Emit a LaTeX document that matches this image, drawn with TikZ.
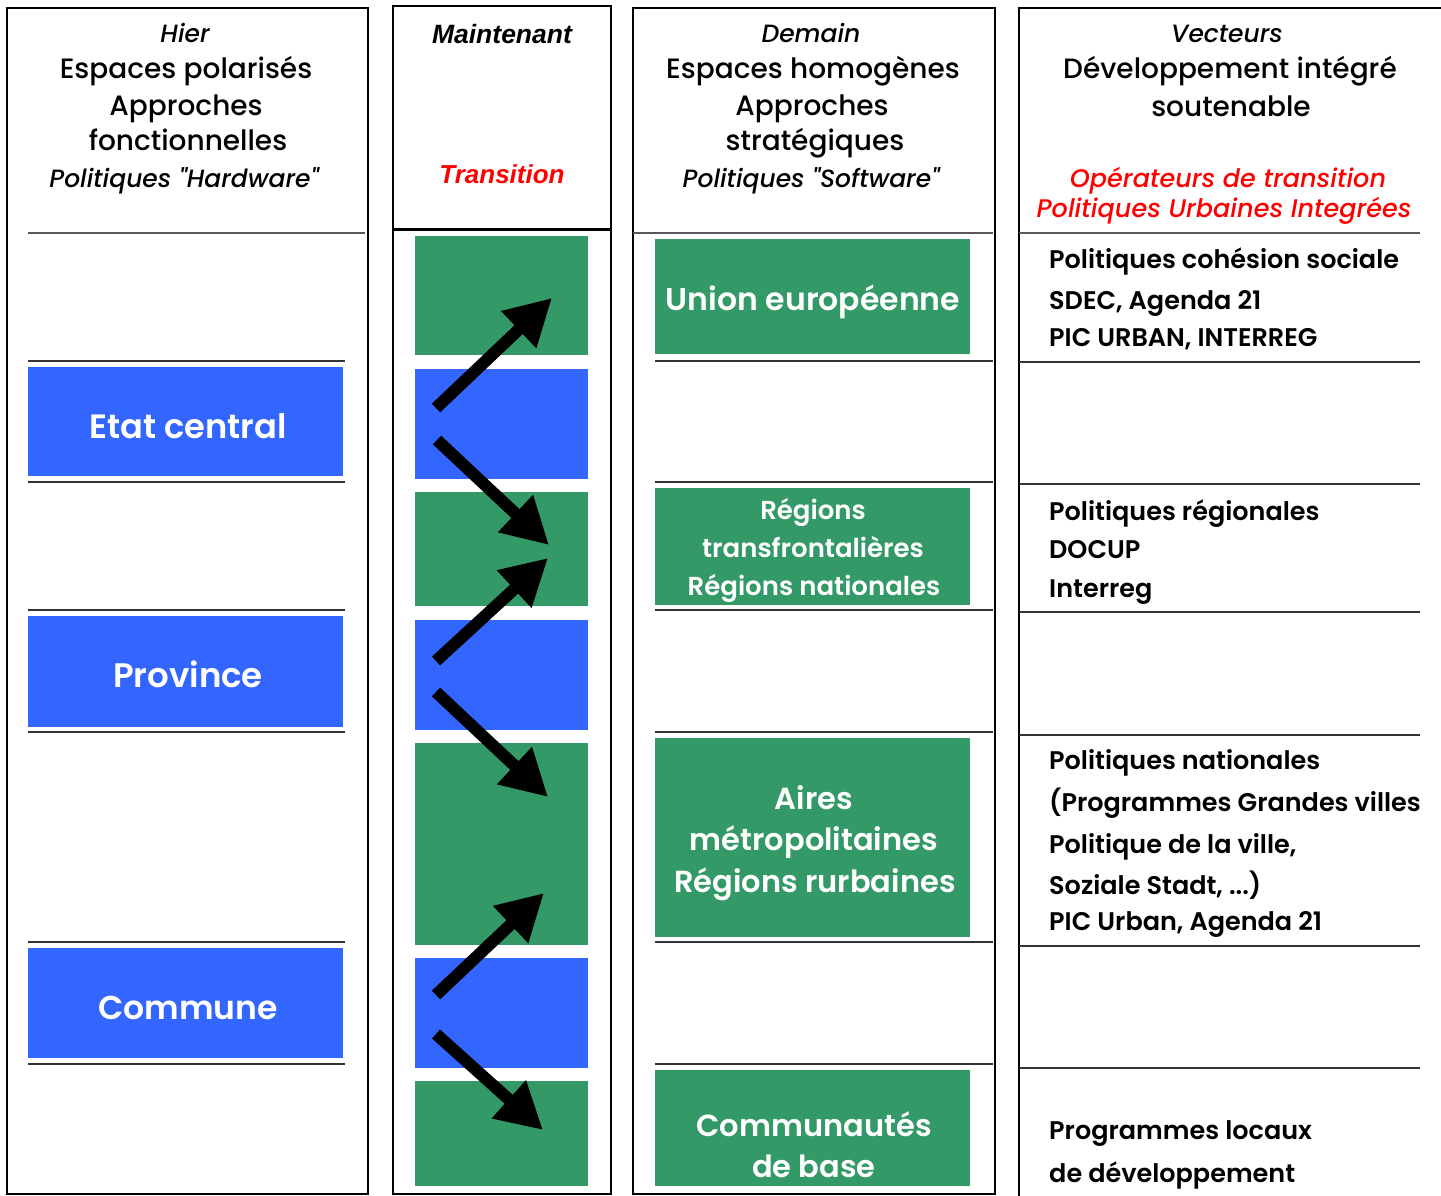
\documentclass[tikz,border=0pt]{standalone}
\usepackage{fontspec}
\setmainfont{Poppins}
\newfontfamily\medf{Poppins Medium}
\newfontfamily\semif{Poppins SemiBold}
\newfontfamily\arialf{Liberation Sans}
\usetikzlibrary{arrows.meta,fit}
\definecolor{vert}{RGB}{51,153,102}
\definecolor{bleu}{RGB}{51,102,255}
\definecolor{rouge}{RGB}{255,0,0}
\newcommand{\dq}{\char34\relax}
\begin{document}
\begin{tikzpicture}[x=1pt,y=-1pt,
  colframe/.style={draw=black,line width=2pt},
  divline/.style={draw=black!80,line width=1.5pt},
  gbox/.style={fill=vert,draw=none,inner sep=0pt},
  bbox/.style={fill=bleu,draw=none,inner sep=0pt},
  boxtxt/.style={text=white,anchor=base,inner sep=0pt},
  hd/.style={anchor=base,inner sep=0pt,font=\medf\fontsize{28}{32}\selectfont},
  hdi/.style={anchor=base,inner sep=0pt,font=\medf\itshape\fontsize{25}{30}\selectfont},
  vtxt/.style={anchor=base west,inner sep=0pt,font=\semif\fontsize{25.5}{30}\selectfont},
  bigarrow/.style={line width=12pt,-{Triangle[length=46pt,width=48pt]}}
]
\useasboundingbox (0,0) rectangle (1441,1196);
\fill[white] (0,0) rectangle (1441,1196);

% ---------- column frames
\draw[colframe] (7,8) rectangle (368,1194);
\draw[colframe] (393,6) rectangle (611,1194);
\draw[colframe] (633,8) rectangle (995,1194);
\draw[colframe] (1442,8) -- (1019,8) -- (1019,1197);

% ---------- column 1 : Hier
\node[hdi] (h1a) at (185,43) {Hier};
\node[hd] (h1b) at (186,79) {Espaces polarisés};
\node[hd] (h1c) at (186,116) {Approches};
\node[hd] (h1d) at (188,151) {fonctionnelles};
\node[hdi] (h1e) at (184,187) {Politiques \dq Hardware\dq};
\draw[divline,draw=black!65] (28,233) -- (365,233);
\foreach \yy in {361,482,610,732,942,1064}{\draw[divline] (28,\yy) -- (345,\yy);}
\node[bbox,fit={(28,367)(343,476)}] (etat) {};
\node[boxtxt,font=\semif\fontsize{33.7}{40}\selectfont] (etatt) at (188,438) {Etat central};
\node[bbox,fit={(28,616)(343,727)}] (prov) {};
\node[boxtxt,font=\semif\fontsize{34}{40}\selectfont] (provt) at (188,687) {Province};
\node[bbox,fit={(28,948)(343,1058)}] (comm) {};
\node[boxtxt,font=\semif\fontsize{33}{40}\selectfont] (commt) at (188,1019) {Commune};

% ---------- column 2 : Maintenant
\node[anchor=base,inner sep=0pt,font=\arialf\bfseries\itshape\fontsize{26.5}{30}\selectfont] (h2a) at (502,44) {Maintenant};
\node[anchor=base,inner sep=0pt,text=rouge,font=\arialf\bfseries\itshape\fontsize{26}{30}\selectfont] (h2b) at (502,183) {Transition};
\draw[line width=3pt] (393,229) -- (610,229);
\node[gbox,fit={(415,236)(588,355)}] (m1) {};
\node[bbox,fit={(415,369)(588,479)}] (m2) {};
\node[gbox,fit={(415,492)(588,606)}] (m3) {};
\node[bbox,fit={(415,620)(588,730)}] (m4) {};
\node[gbox,fit={(415,743)(588,945)}] (m5) {};
\node[bbox,fit={(415,958)(588,1068)}] (m6) {};
\node[gbox,fit={(415,1081)(588,1186)}] (m7) {};
\coordinate (a1s) at (436,408); \coordinate (a1e) at (552,298);
\coordinate (a2s) at (437,440); \coordinate (a2e) at (549,545);
\coordinate (a3s) at (436,661); \coordinate (a3e) at (548,558);
\coordinate (a4s) at (436,692); \coordinate (a4e) at (548,797);
\coordinate (a5s) at (436,995); \coordinate (a5e) at (544,893);
\coordinate (a6s) at (436,1034); \coordinate (a6e) at (543,1130);
\foreach \i in {1,...,6}{\draw[bigarrow] (a\i s) -- (a\i e);}

% ---------- column 3 : Demain
\node[hdi] (h3a) at (811,43) {Demain};
\node[hd] (h3b) at (813,79) {Espaces homogènes};
\node[hd] (h3c) at (812,116) {Approches};
\node[hd] (h3d) at (815,151) {stratégiques};
\node[hdi] (h3e) at (811,187) {Politiques \dq Software\dq};
\draw[divline,draw=black!65] (633,233) -- (993,233);
\foreach \yy in {361,482,610,732,942,1064}{\draw[divline] (655,\yy) -- (993,\yy);}
\node[gbox,fit={(655,239)(970,354)}] (ue) {};
\node[boxtxt,font=\semif\fontsize{31.5}{34}\selectfont] (uet) at (813,310) {Union européenne};
\node[gbox,fit={(655,488)(970,605)}] (reg) {};
\node[boxtxt,font=\semif\fontsize{26}{30}\selectfont] (rega) at (813,519) {Régions};
\node[boxtxt,font=\semif\fontsize{26}{30}\selectfont] (regb) at (813,557) {transfrontalières};
\node[boxtxt,font=\semif\fontsize{26}{30}\selectfont] (regc) at (814,595) {Régions nationales};
\node[gbox,fit={(655,738)(970,937)}] (aires) {};
\node[boxtxt,font=\semif\fontsize{30.5}{34}\selectfont] (airesa) at (814,809) {Aires};
\node[boxtxt,font=\semif\fontsize{30.5}{34}\selectfont] (airesb) at (814,850) {métropolitaines};
\node[boxtxt,font=\semif\fontsize{30.5}{34}\selectfont] (airesc) at (815,892) {Régions rurbaines};
\node[gbox,fit={(655,1070)(970,1186)}] (cb) {};
\node[boxtxt,font=\semif\fontsize{30.5}{34}\selectfont] (cba) at (814,1136) {Communautés};
\node[boxtxt,font=\semif\fontsize{30.5}{34}\selectfont] (cbb) at (814,1177) {de base};

% ---------- column 4 : Vecteurs
\node[hdi] (h4a) at (1227,43) {Vecteurs};
\node[hd] (h4b) at (1230,79) {Développement intégré};
\node[hd] (h4c) at (1231,117) {soutenable};
\node[hdi,text=rouge,font=\medf\itshape\fontsize{25.5}{30}\selectfont] (h4d) at (1228,187) {Opérateurs de transition};
\node[hdi,text=rouge,font=\medf\itshape\fontsize{25.5}{30}\selectfont] (h4e) at (1224,218) {Politiques Urbaines Integrées};
\draw[divline,draw=black!65] (1019,233) -- (1420,233);
\foreach \yy in {362,484,612,735,946,1068}{\draw[divline] (1019,\yy) -- (1420,\yy);}
\node[vtxt] (v1) at (1049,268) {Politiques cohésion sociale};
\node[vtxt] (v2) at (1049,309) {SDEC, Agenda 21};
\node[vtxt] (v3) at (1049,346) {PIC URBAN, INTERREG};
\node[vtxt] (v4) at (1049,520) {Politiques régionales};
\node[vtxt] (v5) at (1049,558) {DOCUP};
\node[vtxt] (v6) at (1049,597) {Interreg};
\node[vtxt] (v7) at (1049,769) {Politiques nationales};
\node[vtxt] (v8) at (1049,811) {(Programmes Grandes villes};
\node[vtxt] (v9) at (1049,853) {Politique de la ville,};
\node[vtxt] (v10) at (1049,894) {Soziale Stadt, ...)};
\node[vtxt] (v11) at (1049,930) {PIC Urban, Agenda 21};
\node[vtxt] (v12) at (1049,1139) {Programmes locaux};
\node[vtxt] (v13) at (1049,1182) {de développement};
\end{tikzpicture}
\end{document}
